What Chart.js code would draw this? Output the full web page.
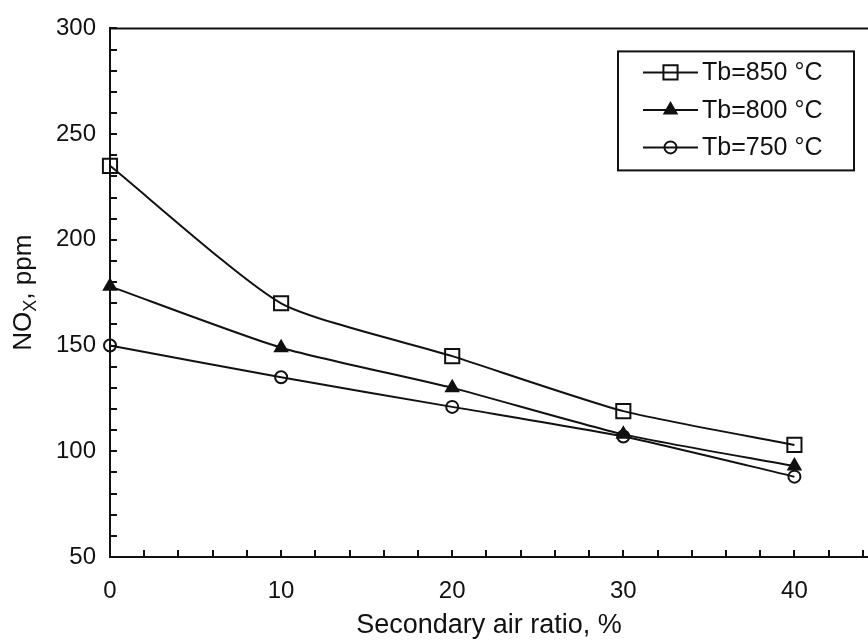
<!DOCTYPE html>
<html>
<head>
<meta charset="utf-8">
<script src="https://cdn.jsdelivr.net/npm/chart.js@4.4.0/dist/chart.umd.min.js"></script>
<style>
    html, body { margin: 0; padding: 0; background: #fff; overflow: hidden; }
    #wrap { width: 868px; height: 644px; overflow: hidden; }
</style>
</head>
<body>
<div id="wrap"><canvas id="myChart" width="880" height="644"></canvas></div>
<script>
// secondary air ratio (%) and NOx (ppm) for each bed temperature
const airRatio = [0, 10, 20, 30, 40];
const tb850 = [235, 170, 145, 119, 103];
const tb800 = [178, 149, 130, 108, 93];
const tb750 = [150, 135, 121, 107, 88];
const seriesNames = ['Tb=850 °C', 'Tb=800 °C', 'Tb=750 °C'];
const xTickLabels = [0, 10, 20, 30, 40];
const yTickLabels = [50, 100, 150, 200, 250, 300];

const FONT = '"Liberation Sans", Arial, sans-serif';
const INK = '#111';

function toPoints(values) {
    return airRatio.map((x, i) => ({ x: x, y: values[i] }));
}

// short inward tick marks + top frame line
const frame = {
    id: 'frame',
    afterDraw(chart) {
        const { ctx, chartArea: a, scales: { x, y } } = chart;
        ctx.save();
        ctx.strokeStyle = INK;
        ctx.lineWidth = 2;
        ctx.beginPath();
        x.ticks.forEach(t => {
            if (t.value === x.min) return;
            const px = Math.round(x.getPixelForValue(t.value));
            ctx.moveTo(px, a.bottom);
            ctx.lineTo(px, a.bottom - 7);
        });
        y.ticks.forEach(t => {
            if (t.value === y.min) return;
            const py = Math.round(y.getPixelForValue(t.value));
            ctx.moveTo(a.left, py);
            ctx.lineTo(a.left + 7, py);
        });
        ctx.moveTo(a.left - 1, a.top);
        ctx.lineTo(a.right, a.top);
        ctx.stroke();
        ctx.restore();
    }
};

// rotated y title with subscript X
const yTitle = {
    id: 'yTitle',
    afterDraw(chart) {
        const { ctx, chartArea: a } = chart;
        const big = '26px ' + FONT;
        const small = '18px ' + FONT;
        ctx.save();
        ctx.translate(24, (a.top + a.bottom) / 2);
        ctx.rotate(-Math.PI / 2);
        ctx.fillStyle = INK;
        ctx.textBaseline = 'middle';
        ctx.textAlign = 'left';
        ctx.font = big;
        const w1 = ctx.measureText('NO').width;
        const w3 = ctx.measureText(', ppm').width;
        ctx.font = small;
        const w2 = ctx.measureText('X').width;
        let sx = -(w1 + w2 + w3) / 2;
        ctx.font = big;
        ctx.fillText('NO', sx, 0);
        ctx.font = small;
        ctx.fillText('X', sx + w1, 7);
        ctx.font = big;
        ctx.fillText(', ppm', sx + w1 + w2, 0);
        ctx.restore();
    }
};

// boxed legend: line sample with marker in the middle
const boxLegend = {
    id: 'boxLegend',
    afterDraw(chart) {
        const { ctx, chartArea: a } = chart;
        const w = 236, h = 119;
        const left = a.right - 14 - w;
        const top = a.top + 23;
        ctx.save();
        ctx.strokeStyle = INK;
        ctx.lineWidth = 2;
        ctx.strokeRect(left, top, w, h);
        ctx.font = '25px ' + FONT;
        ctx.textBaseline = 'middle';
        ctx.fillStyle = INK;
        chart.data.datasets.forEach((ds, i) => {
            const cy = top + 21 + i * 37.5;
            const x0 = left + 25, x1 = left + 80;
            ctx.beginPath();
            ctx.moveTo(x0, cy);
            ctx.lineTo(x1, cy);
            ctx.lineWidth = 2;
            ctx.strokeStyle = INK;
            ctx.stroke();
            ctx.fillStyle = ds.pointBackgroundColor;
            ctx.strokeStyle = INK;
            ctx.lineWidth = ds.pointBorderWidth;
            Chart.helpers.drawPoint(ctx, {
                pointStyle: ds.pointStyle,
                radius: ds.pointRadius,
                borderWidth: ds.pointBorderWidth,
                rotation: 0
            }, (x0 + x1) / 2, cy);
            ctx.fillStyle = INK;
            ctx.fillText(ds.label, x1 + 4, cy + 1);
        });
        ctx.restore();
    }
};

const tickFont = { family: FONT, size: 24 };

new Chart(document.getElementById('myChart'), {
    type: 'line',
    data: {
        datasets: [
            {
                label: seriesNames[0],
                data: toPoints(tb850),
                borderColor: INK,
                borderWidth: 2,
                tension: 0.2,
                pointStyle: 'rect',
                pointRadius: 10,
                pointBorderWidth: 2,
                pointBorderColor: INK,
                pointBackgroundColor: 'rgba(0,0,0,0)',
                clip: false
            },
            {
                label: seriesNames[1],
                data: toPoints(tb800),
                borderColor: INK,
                borderWidth: 2,
                tension: 0.2,
                pointStyle: 'triangle',
                pointRadius: 7,
                pointBorderWidth: 2,
                pointBorderColor: INK,
                pointBackgroundColor: INK,
                clip: false
            },
            {
                label: seriesNames[2],
                data: toPoints(tb750),
                borderColor: INK,
                borderWidth: 2,
                tension: 0.2,
                pointStyle: 'circle',
                pointRadius: 6,
                pointBorderWidth: 2,
                pointBorderColor: INK,
                pointBackgroundColor: 'rgba(0,0,0,0)',
                clip: false
            }
        ]
    },
    options: {
        responsive: false,
        animation: false,
        layout: { padding: { top: 28, right: 0, bottom: 0, left: 0 } },
        plugins: {
            legend: { display: false },
            tooltip: { enabled: false }
        },
        scales: {
            x: {
                type: 'linear',
                min: 0,
                max: 44.3,
                grid: { drawOnChartArea: false, drawTicks: false },
                border: { color: INK, width: 2 },
                ticks: {
                    stepSize: 2,
                    autoSkip: false,
                    includeBounds: false,
                    maxRotation: 0,
                    padding: 20,
                    color: INK,
                    font: tickFont,
                    callback: v => xTickLabels.includes(v) ? v : ''
                },
                title: {
                    display: true,
                    text: 'Secondary air ratio, %',
                    color: INK,
                    font: { family: FONT, size: 27 },
                    padding: { top: 0, bottom: 2 }
                },
                afterFit: s => {
                    s.height = 87;
                    s.paddingLeft = 0;
                    s.paddingRight = 0;
                }
            },
            y: {
                min: 50,
                max: 300,
                grid: { drawOnChartArea: false, drawTicks: false },
                border: { color: INK, width: 2 },
                ticks: {
                    stepSize: 10,
                    autoSkip: false,
                    padding: 14,
                    color: INK,
                    font: tickFont,
                    callback: v => yTickLabels.includes(v) ? v : ''
                },
                afterFit: s => { s.width = 110; }
            }
        }
    },
    plugins: [frame, yTitle, boxLegend]
});
</script>
</body>
</html>
